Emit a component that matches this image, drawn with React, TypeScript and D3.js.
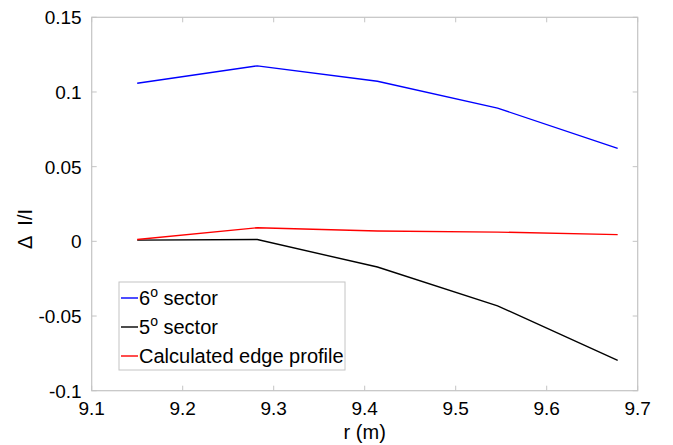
import React from "react";
import * as d3 from "d3";

const rValues = [9.15, 9.282, 9.414, 9.546, 9.678];
const sector6 = [0.1058, 0.1175, 0.1072, 0.0892, 0.0622];
const sector5 = [0.0008, 0.0012, -0.0172, -0.0432, -0.0797];
const edgeProfile = [0.0012, 0.0091, 0.0069, 0.0062, 0.0045];
const xTicks = [9.1, 9.2, 9.3, 9.4, 9.5, 9.6, 9.7];
const yTicks = [-0.1, -0.05, 0, 0.05, 0.1, 0.15];
const yTickLabels = ["-0.1", "-0.05", "0", "0.05", "0.1", "0.15"];
const seriesNames = ["6", "5", "Calculated edge profile"];
const seriesColors = ["#0000ff", "#000000", "#ff0000"];

export default function App() {
  const W = 673, H = 445;
  const left = 91.7, right = 637.7, top = 17.3, bottom = 390.7;
  const x = d3.scaleLinear().domain([9.1, 9.7]).range([left, right]);
  const y = d3.scaleLinear().domain([-0.1, 0.15]).range([bottom, top]);
  const line = d3.line<number>().x((_, i) => x(rValues[i])).y((d) => y(d));
  const series = [sector6, sector5, edgeProfile];
  const font = "'Liberation Sans', Arial, Helvetica, sans-serif";
  const axisColor = "#c4c4c4";
  const tickLen = 5;
  const legendX = 119, legendY = 282, legendW = 226, legendH = 88;
  const rowH = 29;
  const fs = 19;
  const lfs = 20;

  return (
    <svg width={W} height={H} style={{ position: "absolute", left: 0, top: 0 }} fontFamily={font}>
      <rect x={0} y={0} width={W} height={H} fill="#fff" />
      <rect x={left} y={top} width={right - left} height={bottom - top} fill="none" stroke={axisColor} strokeWidth={1.2} />
      {xTicks.map((t) => (
        <g key={"xt" + t}>
          <line x1={x(t)} x2={x(t)} y1={bottom} y2={bottom - tickLen} stroke={axisColor} />
          <line x1={x(t)} x2={x(t)} y1={top} y2={top + tickLen} stroke={axisColor} />
          <text x={x(t)} y={bottom + 24.5} fontSize={fs} textAnchor="middle" fill="#000">{t.toFixed(1)}</text>
        </g>
      ))}
      {yTicks.map((t, i) => (
        <g key={"yt" + t}>
          <line x1={left} x2={left + tickLen} y1={y(t)} y2={y(t)} stroke={axisColor} />
          <line x1={right} x2={right - tickLen} y1={y(t)} y2={y(t)} stroke={axisColor} />
          <text x={left - 10} y={y(t) + 7} fontSize={fs} textAnchor="end" fill="#000">{yTickLabels[i]}</text>
        </g>
      ))}
      <text x={(left + right) / 2} y={439} fontSize={20} textAnchor="middle" fill="#000">r (m)</text>
      <text transform={`translate(32,229) rotate(-90)`} fontSize={20} textAnchor="middle" fill="#000" style={{ whiteSpace: "pre" }}>{"Δ  I/I"}</text>
      {series.map((s, i) => (
        <path key={"s" + i} d={line(s) || ""} fill="none" stroke={seriesColors[i]} strokeWidth={1.4} />
      ))}
      <rect x={legendX} y={legendY} width={legendW} height={legendH} fill="#fff" stroke={axisColor} />
      {seriesNames.map((n, i) => {
        const cy = legendY + 16 + i * rowH;
        return (
          <g key={"lg" + i}>
            <line x1={legendX + 2} x2={legendX + 19} y1={cy} y2={cy} stroke={seriesColors[i]} strokeWidth={1.4} />
            <text x={legendX + 20} y={cy + 7} fontSize={lfs} fill="#000">
              {i < 2 ? (
                <>
                  {n}
                  <tspan dy={-8} fontSize={14}>o</tspan>
                  <tspan dy={8}> sector</tspan>
                </>
              ) : n}
            </text>
          </g>
        );
      })}
    </svg>
  );
}
